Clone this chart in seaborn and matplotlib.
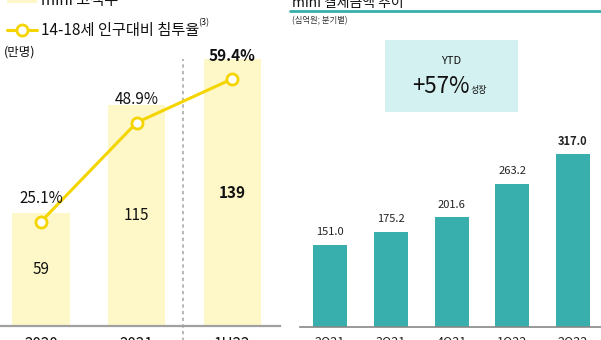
import numpy as np
import pandas as pd
import matplotlib
matplotlib.use("Agg")
import matplotlib.pyplot as plt
import seaborn as sns
from matplotlib.patches import Rectangle
from matplotlib.lines import Line2D

# ---- data ----
left_periods = ["2020", "2021", "1H22"]
customers = [59, 115, 139]            # 만명
penetration = [25.1, 48.9, 59.4]      # %
right_quarters = ["2Q21", "3Q21", "4Q21", "1Q22", "2Q22"]
payments = [151.0, 175.2, 201.6, 263.2, 317.0]   # 십억원

sns.set_theme(style="white")
plt.rcParams['font.family'] = ['Noto Sans CJK KR', 'DejaVu Sans']

W, H = 601, 340
fig = plt.figure(figsize=(W / 100, H / 100), dpi=100)
fig.patch.set_facecolor("white")

def fx(px):
    return px / W

def fy(py):
    return 1 - py / H

YEL_BAR = "#FEF8C8"
YEL_LINE = "#F5D500"
TEAL = "#38AFAD"
BOX = "#D4F1F1"
GRAY = "#A0A0A0"

# ---- left panel ----
axL = fig.add_axes([0, fy(326), fx(280), 326 / H])
dfL = pd.DataFrame({"period": left_periods, "customers": customers})
sns.barplot(data=dfL, x="period", y="customers", color=YEL_BAR, width=0.6,
            saturation=1, ax=axL, edgecolor="none")
axL.set_xlim(-0.43, 2.50)
axL.set_ylim(0, 326 / 1.92)
for i, v in enumerate(customers):
    bold = (i == len(customers) - 1)
    axL.text(i, v / 2, f"{v}", ha="center", va="center", fontsize=11,
             fontweight="bold" if bold else "normal", color="#111111")

axR = axL.twinx()
axR.set_ylim(0, 326 / 4.16)
idx = np.arange(len(penetration))
sns.lineplot(x=idx, y=penetration, ax=axR, color=YEL_LINE, linewidth=2.2,
             marker="o", markersize=8, markerfacecolor="white",
             markeredgecolor=YEL_LINE, markeredgewidth=2)
for i, v in enumerate(penetration):
    bold = (i == len(penetration) - 1)
    axR.annotate(f"{v}%", (i, v), xytext=(0, 16.5), textcoords="offset points",
                 ha="center", va="center", fontsize=11,
                 fontweight="bold" if bold else "normal", color="#111111")
axR.set_xlim(-0.43, 2.50)

for ax in (axL, axR):
    for s in ("top", "left", "right"):
        ax.spines[s].set_visible(False)
    ax.set_ylabel("")
    ax.set_xlabel("")
    ax.set_yticks([])
axR.spines["bottom"].set_visible(False)
axL.spines["bottom"].set_color(GRAY)
axL.spines["bottom"].set_linewidth(1.6)
axL.tick_params(axis="x", length=0, pad=7, labelsize=11, labelcolor="#111111")

# dashed divider
axL.axvline(1.487, ymin=-0.1, ymax=0.82, color="#AAAAAA", linestyle=(0, (2, 2)),
            linewidth=1.2, clip_on=False)

# legend (top-left)
fig.patches.append(Rectangle((fx(7), fy(3)), fx(30), 10 / H, transform=fig.transFigure,
                             facecolor=YEL_BAR, edgecolor="none"))
fig.text(fx(41), fy(5), "mini 고객수", fontsize=11, va="baseline", ha="left", color="#111111")
fig.lines.append(Line2D([fx(7), fx(37)], [fy(30), fy(30)], transform=fig.transFigure,
                        color=YEL_LINE, linewidth=2.2, marker=None))
fig.lines.append(Line2D([fx(22)], [fy(30)], transform=fig.transFigure,
                        color=YEL_LINE, marker="o", markersize=8, markerfacecolor="white",
                        markeredgewidth=2, linestyle="none"))
fig.text(fx(41), fy(30), "14-18세 인구대비 침투율", fontsize=11, va="center", ha="left",
         color="#111111")
fig.text(fx(198), fy(23), "(3)", fontsize=6.5, va="center", ha="left", color="#111111")
fig.text(fx(4), fy(52), "(만명)", fontsize=9, va="center", ha="left", color="#111111")

# ---- right panel ----
axB = fig.add_axes([fx(300), fy(327), fx(301), 327 / H])
dfR = pd.DataFrame({"quarter": right_quarters, "payments": payments})
sns.barplot(data=dfR, x="quarter", y="payments", color=TEAL, width=0.56,
            saturation=1, ax=axB, edgecolor="none")
axB.set_xlim(-0.494, 4.46)
axB.set_ylim(0, 327 / 0.545)
for i, v in enumerate(payments):
    bold = (i == len(payments) - 1)
    axB.annotate(f"{v:.1f}", (i, v), xytext=(0, 9), textcoords="offset points",
                 ha="center", va="center", fontsize=8,
                 fontweight="bold" if bold else "normal", color="#222222")
for s in ("top", "left", "right"):
    axB.spines[s].set_visible(False)
axB.spines["bottom"].set_color("#888888")
axB.spines["bottom"].set_linewidth(1.2)
axB.set_yticks([])
axB.set_xlabel("")
axB.set_ylabel("")
axB.tick_params(axis="x", length=0, pad=6, labelsize=9, labelcolor="#222222")

# header
fig.text(fx(292), fy(7), "mini 결제금액 추이", fontsize=10, va="baseline", ha="left",
         color="#111111")
fig.lines.append(Line2D([fx(290), fx(601)], [fy(11), fy(11)], transform=fig.transFigure,
                        color=TEAL, linewidth=2))
fig.text(fx(292), fy(21), "(십억원; 분기별)", fontsize=6, va="center", ha="left",
         color="#333333")

# YTD box
fig.patches.append(Rectangle((fx(385), fy(112)), fx(133), 72 / H, transform=fig.transFigure,
                             facecolor=BOX, edgecolor="none"))
fig.text(fx(451), fy(61), "YTD", fontsize=8, ha="center", va="center", color="#111111")
fig.text(fx(441), fy(93), "+57%", fontsize=16, ha="center", va="baseline", color="#111111")
fig.text(fx(471), fy(93), "성장", fontsize=6.5, ha="left", va="baseline", color="#111111")

fig.savefig("out.png", dpi=100)
